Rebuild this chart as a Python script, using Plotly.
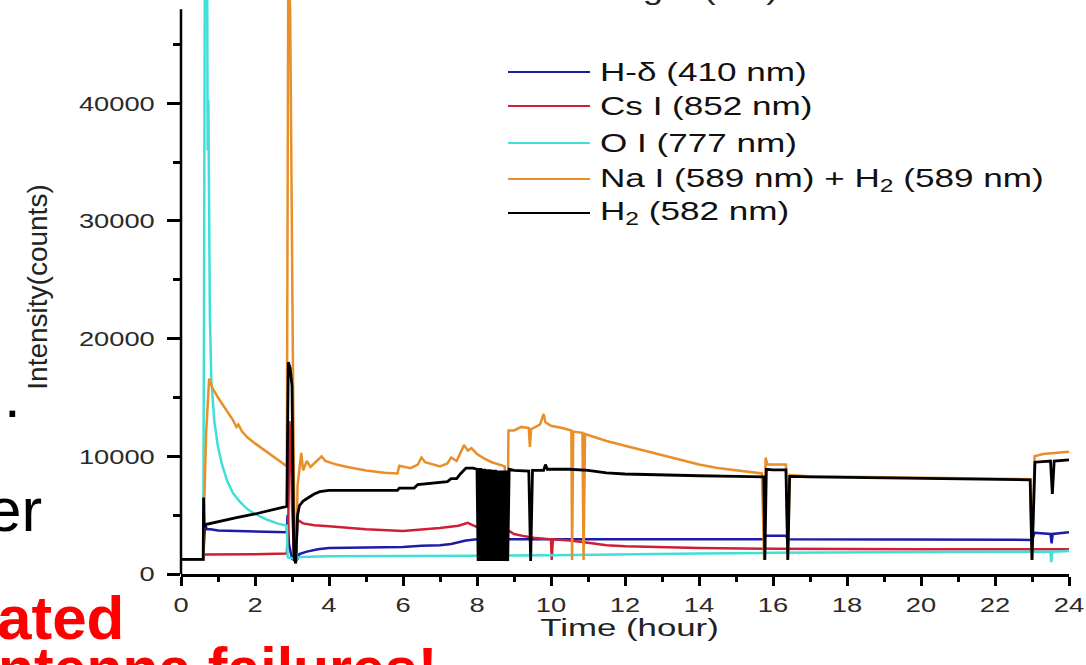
import plotly.graph_objects as go

# ---- time series (hours, counts) ----
t_hd = [0, 0.60, 0.62, 0.65, 0.70, 0.80, 1.0, 1.5, 2.0, 2.5, 2.86, 2.88, 2.92, 3.0, 3.1, 3.15,
        3.2, 3.4, 3.7, 4.0, 5.0, 6.0, 6.5, 7.0, 7.3, 7.5, 7.7, 8.0, 9.0, 10, 12, 14, 15.75,
        15.8, 16.35, 16.4, 18, 20, 22, 23.0, 23.07, 23.5, 23.53, 23.56, 24]
v_hd = [1250, 1250, 2500, 4200, 3800, 3800, 3700, 3650, 3600, 3550, 3550, 5000, 2500, 1300, 1100, 1300,
        1700, 1900, 2100, 2200, 2250, 2300, 2400, 2450, 2550, 2700, 2850, 2950, 2950, 2950, 2950, 2950, 2950,
        3250, 3250, 2950, 2950, 2900, 2900, 2900, 3500, 3400, 2600, 3400, 3550]

t_cs = [0, 0.60, 0.63, 1.0, 2.0, 2.86, 2.9, 2.93, 2.97, 3.0, 3.05, 3.1, 3.15, 3.3, 3.6, 4.0, 5.0,
        6.0, 6.5, 7.0, 7.5, 7.75, 7.85, 8.0, 8.85, 9.0, 9.3, 9.6, 10.0, 10.02, 10.05, 10.5, 11.0,
        11.5, 12, 13, 14, 16, 18, 20, 22, 23, 24]
v_cs = [1250, 1250, 1650, 1650, 1680, 1750, 4500, 13000, 11000, 6000, 2000, 1300, 4600, 4300, 4150, 4050, 3800,
        3650, 3750, 3900, 4100, 4350, 4200, 4000, 3700, 3400, 3200, 3050, 2950, 1200, 2950, 2850, 2650,
        2450, 2350, 2250, 2200, 2150, 2100, 2100, 2100, 2100, 2100]

t_o = [0, 0.60, 0.62, 0.65, 0.70, 0.72, 0.74, 0.78, 0.82, 0.9, 1.0, 1.1, 1.25, 1.4, 1.6, 1.8, 2.0,
       2.3, 2.6, 2.86, 2.88, 2.9, 3.1, 3.2, 4.0, 6.0, 8.0, 10, 12, 14, 16, 18, 20, 22, 23, 23.5,
       23.52, 23.55, 24]
v_o = [1250, 1250, 20000, 60000, 60000, 36000, 40300, 22000, 16500, 13000, 10800, 9400, 7900, 6900, 6100, 5500, 5100,
       4650, 4300, 4100, 1500, 1400, 1300, 1450, 1500, 1500, 1550, 1600, 1700, 1750, 1800, 1850, 1850, 1900, 1900, 1900,
       1000, 1900, 1950]

t_na = [0, 0.60, 0.62, 0.68, 0.76, 0.85, 1.0, 1.2, 1.4, 1.5, 1.55, 1.65, 1.8, 2.0, 2.3, 2.6, 2.86,
        2.88, 2.9, 2.95, 3.0, 3.05, 3.08, 3.12, 3.15, 3.2, 3.25, 3.3, 3.4, 3.5, 3.6, 3.8, 3.9, 4.2,
        4.5, 5.0, 5.5, 5.85, 5.9, 6.2, 6.4, 6.5, 6.6, 7.0, 7.2, 7.3, 7.45, 7.6, 7.65, 7.75, 7.85,
        8.0, 8.2, 8.4, 8.6, 8.75, 8.78, 8.82, 8.85, 9.0, 9.2, 9.4, 9.43, 9.46, 9.7, 9.8, 9.85, 10.0,
        10.3, 10.55, 10.57, 10.6, 10.85, 10.88, 10.92, 11.2, 11.5, 12.0, 12.5, 13.0, 13.5, 14.0,
        14.5, 15.0, 15.7, 15.76, 15.8, 15.85, 16.35, 16.4, 16.45, 17, 18, 19, 20, 21, 22, 22.95,
        23.0, 23.07, 23.3, 23.6, 24.0]
v_na = [1250, 1250, 5000, 12000, 16600, 15800, 15000, 14100, 13100, 12500, 12700, 12100, 11600, 11100, 10400, 9700, 9150,
        30000, 52000, 48000, 25000, 8000, 1300, 1300, 7500, 9200, 10300, 8800, 9600, 9100, 9400, 10000, 9600, 9300,
        9100, 8800, 8600, 8550, 9200, 9000, 9300, 9900, 9500, 9150, 9400, 9900, 9600, 10700, 10950, 10500, 10700,
        10200, 9800, 9500, 9300, 9150, 1200, 1200, 12200, 12200, 12500, 12400, 10800, 12300, 12700, 13600, 12900, 12600,
        12400, 12200, 1200, 12100, 12000, 1200, 11900, 11600, 11300, 10900, 10500, 10100, 9700, 9300,
        9000, 8800, 8550, 1200, 9900, 9300, 9300, 1200, 8400, 8300, 8250, 8200, 8150, 8100, 8050, 8050,
        1200, 10000, 10200, 10300, 10400]

t_h2 = [0, 0.60, 0.61, 0.63, 0.66, 1.0, 1.5, 2.0, 2.5, 2.86, 2.9, 2.95, 3.0, 3.05, 3.1, 3.15, 3.2,
        3.3, 3.45, 3.6, 3.75, 4.0, 4.5, 5.0, 5.5, 5.85, 5.9, 6.3, 6.4, 7.0, 7.2, 7.3, 7.45, 7.55,
        7.7, 7.9, 8.0,
        8.03, 8.05, 8.08, 8.10, 8.13, 8.15, 8.18, 8.20, 8.23, 8.25, 8.28, 8.30, 8.33, 8.35, 8.38,
        8.40, 8.43, 8.45, 8.48, 8.50, 8.53, 8.55, 8.58, 8.60, 8.63, 8.65, 8.68, 8.70, 8.73, 8.75,
        8.78, 8.80, 8.83, 8.85,
        8.87, 9.0, 9.4, 9.45, 9.5, 9.8, 9.85, 9.9, 10.5, 11, 11.5, 12, 13, 14, 15, 15.75, 15.78,
        15.82, 16.0, 16.35, 16.4, 16.45, 17, 18, 19, 20, 21, 22, 22.95, 23.0, 23.08, 23.5, 23.55,
        23.6, 24]
v_h2 = [1250, 1250, 6500, 4000, 4200, 4450, 4800, 5100, 5450, 5750, 18000, 17500, 16000, 1500, 900, 5000, 5800,
        6200, 6500, 6800, 7000, 7100, 7100, 7100, 7100, 7100, 7300, 7300, 7600, 7800, 7850, 8100, 8100, 8500,
        9000, 9000, 8900,
        1100, 9000, 1100, 9000, 1100, 8950, 1100, 8950, 1100, 8900, 1100, 8900, 1100, 8900, 1100,
        8850, 1100, 8850, 1100, 8850, 1100, 8800, 1100, 8800, 1100, 8800, 1100, 8800, 1100, 8800,
        1100, 8800, 1100, 8900,
        8900, 8800, 8750, 1100, 8800, 8800, 9300, 8900, 8900, 8800, 8600, 8500, 8400, 8350, 8300, 8250, 1200,
        8900, 8850, 8850, 1200, 8300, 8250, 8200, 8150, 8100, 8050, 8000, 8000, 1200, 9500, 9600, 6800,
        9600, 9700]

series_names = ["H-δ (410 nm)", "Cs I (852 nm)", "O I (777 nm)",
                "Na I (589 nm) + H<sub>2</sub> (589 nm)", "H<sub>2</sub> (582 nm)"]
series_colors = ["#1c1ca8", "#cf1f35", "#3fe0da", "#e88f2a", "#000000"]
series_t = [t_hd, t_cs, t_o, t_na, t_h2]
series_v = [v_hd, v_cs, v_o, v_na, v_h2]
series_w = [2.5, 2.5, 2.5, 2.5, 2.8]

x_ticks = list(range(0, 25, 2))
y_ticks = [0, 10000, 20000, 30000, 40000]

FONT = "Liberation Sans"
W, H = 1086, 665
L, R, T, B = 181, 17, 0, 91
PW, PH = W - L - R, H - T - B


def px(x):
    return (x - L) / PW


def py(y):
    return 1 - (y - T) / PH


fig = go.Figure()
for name, col, tt, vv, w in zip(series_names, series_colors, series_t, series_v, series_w):
    fig.add_trace(go.Scatter(x=tt, y=vv, mode="lines", name=name,
                             line=dict(color=col, width=w), showlegend=False))

annotations = [
    # slide text around the chart
    dict(text=".", x=px(1.6), y=py(418 + 0.212 * 60 + 1), xanchor="left", yanchor="bottom",
         font=dict(family=FONT, size=60, color="black")),
    dict(text="er", x=px(44), y=py(532 + 0.212 * 62 + 1), xanchor="right", yanchor="bottom",
         font=dict(family=FONT, size=62, color="black")),
    dict(text="<b>ated</b>", x=px(126), y=py(640 + 0.212 * 62 + 1), xanchor="right", yanchor="bottom",
         font=dict(family=FONT, size=62, color="#ff0000")),
    dict(text="<b>ntenna failures!</b>", x=px(-4), y=py(690 + 0.212 * 59 + 1), xanchor="left",
         yanchor="bottom", font=dict(family=FONT, size=59, color="#ff0000")),
    # chart text
    dict(text="Wavelength (nm)", x=px(640), y=py(0 + 0.212 * 27 + 1), xanchor="center", yanchor="bottom",
         font=dict(family=FONT, size=27, color="#222")),
    dict(text="Time (hour)", x=px(629), y=py(628), xanchor="center", yanchor="middle",
         font=dict(family=FONT, size=24, color="#222")),
]
N_SLIDE = 4

legend_rows = [72, 106, 143, 179, 213]
shapes = []
for name, col, ry in zip(series_names, series_colors, legend_rows):
    shapes.append(dict(type="line", xref="paper", yref="paper", x0=px(508), x1=px(590),
                       y0=py(ry), y1=py(ry), line=dict(color=col, width=2)))
    annotations.append(dict(text=name, x=px(598), y=py(ry), xanchor="left", yanchor="middle",
                            align="left", font=dict(family=FONT, size=26, color="#111")))

# left axis line stops a little below the top of the plotting area
shapes.append(dict(type="line", xref="paper", yref="y", x0=0, x1=0, y0=0, y1=48000,
                   line=dict(color="black", width=2.5)))

for a in annotations:
    a.update(xref="paper", yref="paper", showarrow=False)

fig.update_layout(
    width=W, height=H, margin=dict(l=L, r=R, t=T, b=B, pad=0),
    paper_bgcolor="white", plot_bgcolor="white",
    font=dict(family=FONT, color="#222"),
    annotations=annotations, shapes=shapes, showlegend=False,
    xaxis=dict(range=[0, 24], tickvals=x_ticks, ticktext=[str(v) for v in x_ticks],
               showgrid=False, zeroline=False, showline=True, linecolor="black", linewidth=2.5,
               ticks="outside", ticklen=9, tickwidth=2.5, tickcolor="black",
               minor=dict(dtick=1, ticks="outside", ticklen=5, tickwidth=2.5, tickcolor="black"),
               tickfont=dict(family=FONT, size=21, color="#2a2a2a"), ticklabelstandoff=1),
    yaxis=dict(range=[0, 48780], tickvals=y_ticks, ticktext=[str(v) for v in y_ticks],
               showgrid=False, zeroline=False, showline=False,
               ticks="outside", ticklen=13, tickwidth=2.5, tickcolor="black",
               minor=dict(dtick=5000, ticks="outside", ticklen=7, tickwidth=2.5, tickcolor="black"),
               tickfont=dict(family=FONT, size=21, color="#2a2a2a"), ticklabelstandoff=8,
               title=dict(text="Intensity(counts)", font=dict(family=FONT, size=28, color="#222"),
                          standoff=40)),
)

# widen the chart lettering horizontally, as in the original figure
stretch_js = """
var gd = document.getElementById('{plot_id}');
function stretch(t, s) {
  var bb = t.getBBox();
  if (!bb.width) return;
  var a = t.getAttribute('text-anchor') || 'start';
  var ox = a === 'middle' ? bb.x + bb.width / 2 : (a === 'end' ? bb.x + bb.width : bb.x);
  var tr = t.getAttribute('transform') || '';
  t.setAttribute('transform', tr + ' translate(' + ox + ',0) scale(' + s + ',1) translate(' + (-ox) + ',0)');
}
gd.querySelectorAll('.xtick text, .ytick text').forEach(function (t) { stretch(t, 1.3); });
gd.querySelectorAll('g.annotation').forEach(function (g) {
  var i = +g.getAttribute('data-index');
  if (i === NSLIDE + 1) {
    g.querySelectorAll('text').forEach(function (t) { stretch(t, 1.45); });
  } else if (i >= NSLIDE) {
    g.querySelectorAll('text').forEach(function (t) { stretch(t, 1.35); });
  }
});
""".replace("NSLIDE", str(N_SLIDE))

fig.write_html("out.html", post_script=stretch_js)
